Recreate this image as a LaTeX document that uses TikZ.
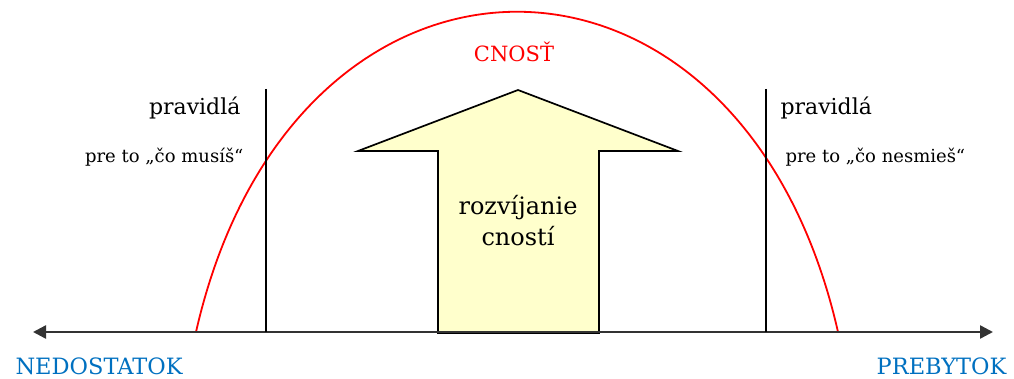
\documentclass[tikz,border=0pt]{standalone}
\usepackage{fontspec}
\setmainfont{DejaVu Serif}
\usetikzlibrary{arrows.meta}
\definecolor{cnostred}{RGB}{255,0,0}
\definecolor{osblue}{RGB}{0,112,192}
\definecolor{sipka}{RGB}{255,255,204}
\tikzset{
	os/.style={line width=2.4pt, black!80, {Triangle[length=13pt,width=13pt]}-{Triangle[length=13pt,width=13pt]}},
	hranica/.style={line width=1.7pt, black},
	koniec/.style={text=osblue, font=\fontsize{22.5}{27}\selectfont},
	pravidlo/.style={font=\fontsize{22}{26}\selectfont},
	popis/.style={font=\fontsize{18}{22}\selectfont}
}
\begin{document}
	\begin{tikzpicture}[x=1pt, y=-1pt]
		\useasboundingbox (0,0) rectangle (1014,379);
		% os
		\coordinate (os-l) at (33,332);
		\coordinate (os-p) at (993,332);
		% obluk cnosti
		\draw[cnostred, line width=1.8pt] (196,332) .. controls (293,-95) and (741,-95) .. (838,332);
		% sipka
		\draw[hranica, fill=sipka, line join=miter]
			(438,333) -- (438,151) -- (358,151) -- (518,90) -- (678,151) -- (599,151) -- (599,333) -- cycle;
		\draw[os] (os-l) -- (os-p);
		% hranice
		\foreach \meno/\x in {l/266, p/766} {
			\coordinate (h-\meno-hore) at (\x,89);
			\coordinate (h-\meno-dole) at (\x,332);
			\draw[hranica] (h-\meno-hore) -- (h-\meno-dole);
		}
		% texty
		\node[pravidlo, anchor=base east] (pravidla-l) at (244,115) {pravidlá};
		\node[popis, anchor=base east] (popis-l) at (247,163) {pre to „čo musíš“};
		\node[pravidlo, anchor=base west] (pravidla-p) at (777,115) {pravidlá};
		\node[popis, anchor=base west] (popis-p) at (782,163) {pre to „čo nesmieš“};
		\node[text=cnostred, font=\fontsize{21}{24}\selectfont, anchor=base] (cnost) at (514,62) {CNOSŤ};
		\node[font=\fontsize{24}{31}\selectfont, align=center] (rozvoj) at (518,221) {rozvíjanie\\cností};
		\node[koniec, anchor=base west] (nedostatok) at (12,374) {NEDOSTATOK};
		\node[koniec, anchor=base east] (prebytok) at (1010,374) {PREBYTOK};
	\end{tikzpicture}
\end{document}
